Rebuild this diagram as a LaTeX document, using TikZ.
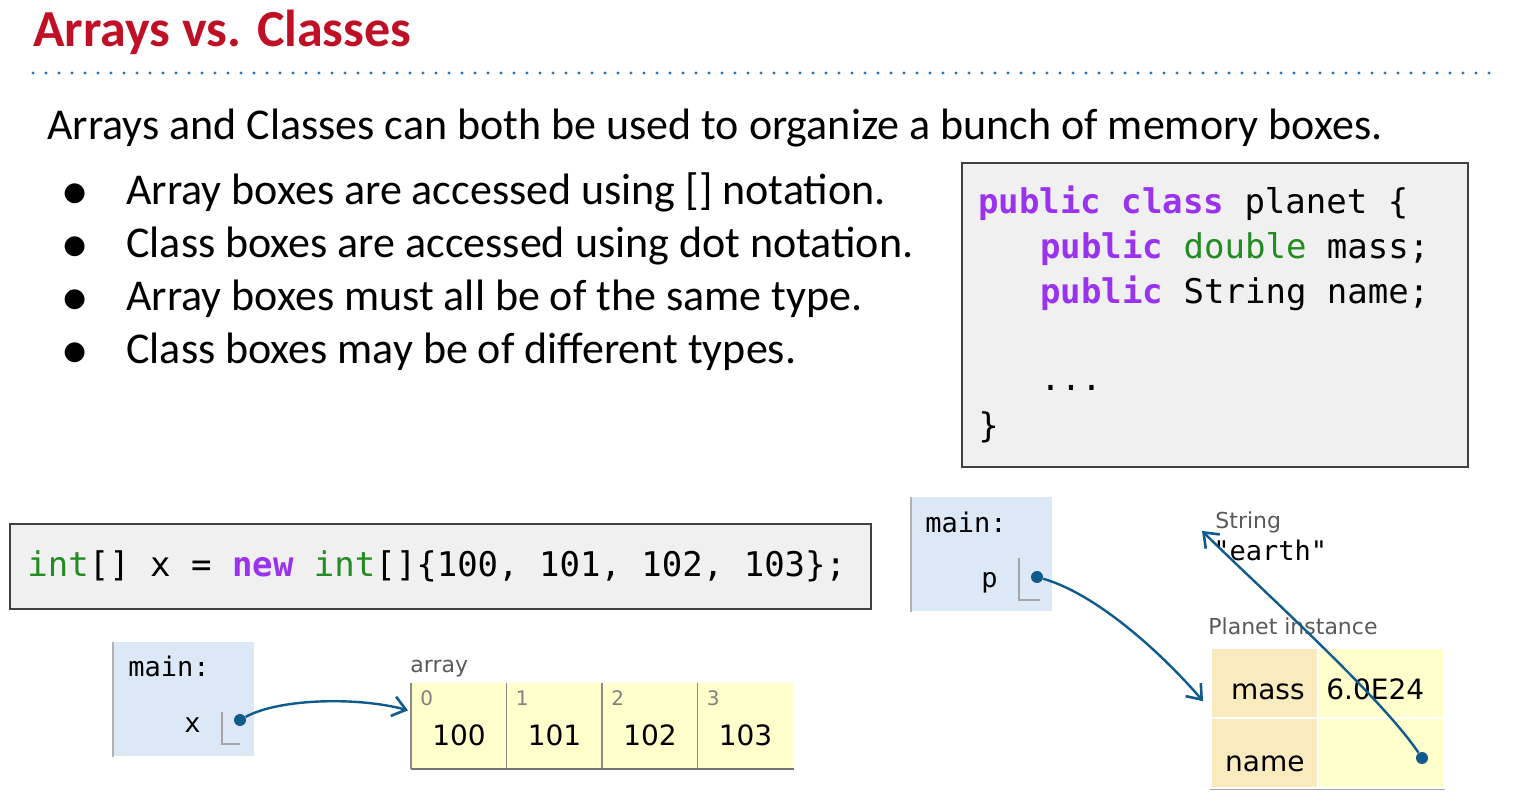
\documentclass[tikz,border=0pt]{standalone}
\usepackage{fontspec}
\setmainfont{Carlito}
\setmonofont{DejaVu Sans Mono}
\newfontfamily\tuteur{DejaVu Sans}
\newfontfamily\puces{DejaVu Sans}
\usetikzlibrary{arrows.meta,positioning}

\definecolor{titrerouge}{RGB}{192,16,38}
\definecolor{pointsbleu}{RGB}{30,115,190}
\definecolor{fondcode}{RGB}{240,240,240}
\definecolor{motviolet}{RGB}{153,51,238}
\definecolor{typevert}{RGB}{34,139,34}
\definecolor{fondpile}{RGB}{221,232,246}
\definecolor{jaunetas}{RGB}{255,255,204}
\definecolor{champtan}{RGB}{250,235,191}
\definecolor{flechebleu}{RGB}{16,90,140}

\newcommand{\mc}[1]{{\bfseries\color{motviolet}#1}}
\newcommand{\ty}[1]{{\color{typevert}#1}}

\tikzset{
  texte/.style={anchor=base west, inner sep=0pt},
  corps/.style={texte, font=\fontsize{22}{26}\selectfont},
  code/.style={texte, font=\fontsize{17}{22}\selectfont\ttfamily},
  boitecode/.style={draw=black!75, fill=fondcode, line width=1pt},
  cadrepile/.style={fill=fondpile, inner sep=0pt, anchor=north west,
    minimum width=70.5pt, minimum height=57pt},
  pile/.style={texte, font=\fontsize{13.5}{16}\selectfont\ttfamily},
  etiquette/.style={texte, text=black!65, font=\fontsize{11}{13}\tuteur},
  indice/.style={texte, text=black!50, font=\fontsize{10}{12}\tuteur},
  valeur/.style={inner sep=0pt, font=\fontsize{14}{16}\tuteur},
  casetab/.style={fill=jaunetas, inner sep=0pt, anchor=north west,
    minimum width=47.75pt, minimum height=42.5pt},
  champ/.style={fill=champtan, draw=white, line width=1.2pt, inner sep=0pt,
    anchor=north west, minimum width=53.5pt, minimum height=35pt},
  valchamp/.style={champ, fill=jaunetas, minimum width=63pt},
  pointe/.style={circle, fill=flechebleu, inner sep=0pt, minimum size=6pt},
  fleche/.style={flechebleu, line width=1.2pt, -{Straight Barb[length=6.5pt,width=10pt,line width=1.3pt]}},
  coin/.style={black!35, line width=0.6pt}
}

\begin{document}
\begin{tikzpicture}[x=0.5pt,y=-0.5pt]
    \useasboundingbox (0,0) rectangle (1522,806);

    % Titre
    \node (titre) [texte, text=titrerouge, font=\fontsize{26}{30}\selectfont\bfseries]
        at (33,47) {Arrays vs. Classes};
    \draw[pointsbleu, line width=1.6pt, line cap=round, dash pattern=on 0pt off 6.5pt]
        (33,73) -- (1490,73);

    % Texte
    \node (intro) [corps] at (47,140)
        {Arrays and Classes can both be used to organize a bunch of memory boxes.};
    \foreach \y/\t in {205/{Array boxes are accessed using [] notation.},
                       258/{Class boxes are accessed using dot notation.},
                       311/{Array boxes must all be of the same type.},
                       364/{Class boxes may be of different types.}} {
        \node[texte, font=\fontsize{13}{16}\puces] at (63,\y-4) {●};
        \node[corps] at (126,\y) {\t};
    }

    % Classe planet
    \draw[boitecode] (962,163) rectangle (1468,467);
    \node (l1) [code] at (978,214) {\mc{public class} planet \{};
    \node (l2) [code] at (1040,259) {\mc{public} \ty{double} mass;};
    \node (l3) [code] at (1040,304) {\mc{public} String name;};
    \node (l4) [code] at (1040,391) {...};
    \node (l5) [code] at (978,438) {\}};

    % Tableau x
    \draw[boitecode] (10,524) rectangle (871,609);
    \node (decl) [code] at (27,577)
        {\ty{int}[] x = \mc{new} \ty{int}[]\{100, 101, 102, 103\};};

    % Pile main (x)
    \node (pilex) [cadrepile] at (113,642) {};
    \draw[black!30, line width=0.8pt] (pilex.north west) -- (pilex.south west);
    \node[pile] at (128,677) {main:};
    \node[pile] at (184,733) {x};
    \draw[coin] (222,712) |- (240,744);
    \node (ptx) [pointe] at (240,720) {};

    % Cases du tableau
    \node (titretab) [etiquette] at (410,673) {array};
    \foreach \i/\v in {0/100, 1/101, 2/102, 3/103} {
        \node (case\i) [casetab] at ({411+95.5*\i},683) {};
        \draw[black!45, line width=0.6pt] (case\i.north west) -- (case\i.south west);
        \node[indice] at ({420+95.5*\i},706) {\i};
        \node[valeur, anchor=base] at ({459+95.5*\i},746) {\v};
    }
    \draw[black!55, line width=0.8pt] (case0.south west) -- (case3.south east);
    \draw[fleche] (ptx) .. controls (280,698) and (360,697) .. ([xshift=-1.5pt,yshift=7.75pt]case0.west);

    % Pile main (p)
    \node (pilep) [cadrepile] at (911,497) {};
    \draw[black!30, line width=0.8pt] (pilep.north west) -- (pilep.south west);
    \node[pile] at (925,533) {main:};
    \node[pile] at (981,588) {p};
    \draw[coin] (1019,558) |- (1040,600);
    \node (ptp) [pointe] at (1037,577) {};

    % Objet String
    \node (titrechaine) [etiquette] at (1215,529) {String};
    \node (chaine) [pile] at (1213,561) {"earth"};

    % Objet Planet
    \node (titreplanete) [etiquette] at (1208,635) {Planet instance};
    \node (cmass) [champ] at (1210,647) {};
    \node (vmass) [valchamp] at (1317,647) {};
    \node (cname) [champ] at (1210,717) {};
    \node (vname) [valchamp] at (1317,717) {};
    \draw[black!35, line width=0.8pt] (cname.south west) -- (vname.south east);
    \node[valeur, anchor=base east] at (1305,700) {mass};
    \node[valeur, anchor=base west] at (1326,700) {6.0E24};
    \node[valeur, anchor=base east] at (1305,772) {name};
    \node (ptnom) [pointe] at (1422,758) {};

    % Fleches
    \draw[fleche] (ptp) .. controls (1100,595) and (1168,660) .. ([xshift=-3.5pt,yshift=-9pt]cmass.west);
    \draw[fleche] (ptnom) .. controls (1382,698) and (1262,590) .. ([xshift=-5.5pt,yshift=10pt]chaine.west);
\end{tikzpicture}
\end{document}
